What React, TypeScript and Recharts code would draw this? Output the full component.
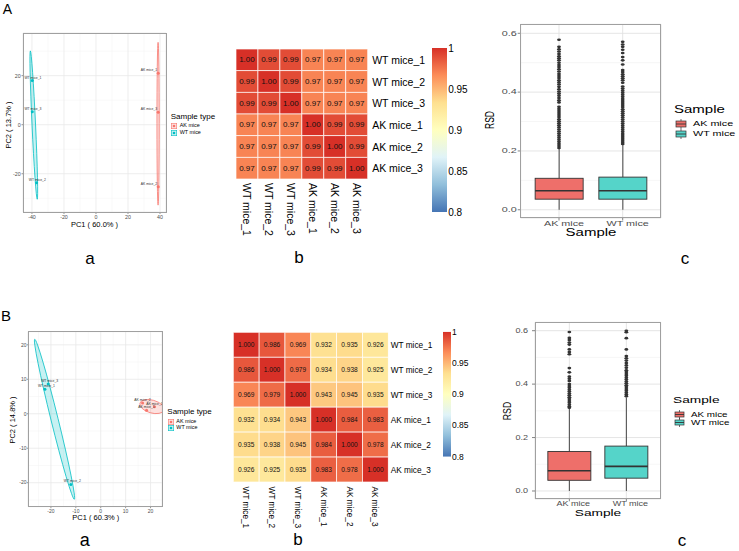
import React from "react";
import {
  ScatterChart,
  Scatter,
  ComposedChart,
  BarChart,
  Bar,
  XAxis,
  YAxis,
  CartesianGrid,
} from "recharts";

const FONT = '"Liberation Sans", Arial, Helvetica, sans-serif';
const AK_COLOR = "#F8766D";
const WT_COLOR = "#00BFC4";
const BOX_FILL: Record<string, string> = { "AK mice": "#EE6F6A", "WT mice": "#55D4C9" };

const GROUPS = ["AK mice", "WT mice"];
const SAMPLES = ["WT mice_1", "WT mice_2", "WT mice_3", "AK mice_1", "AK mice_2", "AK mice_3"];

// ---- PCA scores (panel a) ----
const PCA_A_WT = [
  { label: "WT mice_1", x: -39.8, y: 18.0 },
  { label: "WT mice_3", x: -39.8, y: 5.3 },
  { label: "WT mice_2", x: -37.1, y: -23.7 },
];
const PCA_A_AK = [
  { label: "AK mice_1", x: 38.9, y: 21.0 },
  { label: "AK mice_3", x: 38.9, y: 5.1 },
  { label: "AK mice_2", x: 38.9, y: -25.3 },
];
// ellipse = centre, end of major semi-axis, end of minor semi-axis
const ELL_A_WT = [{ x: -38.85, y: -0.15 }, { x: -41.0, y: 30.1 }, { x: -37.75, y: -0.1 }];
const ELL_A_AK = [{ x: 38.8, y: 0.4 }, { x: 38.8, y: 33.6 }, { x: 39.5, y: 0.4 }];

const PCA_B_WT = [
  { label: "WT mice_3", x: -21.1, y: 8.6 },
  { label: "WT mice_1", x: -22.4, y: 7.1 },
  { label: "WT mice_2", x: -12.0, y: -20.5 },
];
const PCA_B_AK = [
  { label: "AK mice_2", x: 16.8, y: 3.1 },
  { label: "AK mice_3", x: 21.6, y: 2.0 },
  { label: "AK mice_1", x: 18.4, y: 1.0 },
];
const ELL_B_WT = [{ x: -18.55, y: -1.6 }, { x: -26.5, y: 21.6 }, { x: -17.15, y: -1.35 }];
const ELL_B_AK = [{ x: 20.56, y: 2.09 }, { x: 15.74, y: 3.1 }, { x: 21.3, y: 3.88 }];

// ---- correlation matrices (panel b) ----
const CORR_A = [
  [1.0, 0.99, 0.99, 0.97, 0.97, 0.97],
  [0.99, 1.0, 0.99, 0.97, 0.97, 0.97],
  [0.99, 0.99, 1.0, 0.97, 0.97, 0.97],
  [0.97, 0.97, 0.97, 1.0, 0.99, 0.99],
  [0.97, 0.97, 0.97, 0.99, 1.0, 0.99],
  [0.97, 0.97, 0.97, 0.99, 0.99, 1.0],
];
const CORR_B = [
  [1.0, 0.986, 0.969, 0.932, 0.935, 0.926],
  [0.986, 1.0, 0.979, 0.934, 0.938, 0.925],
  [0.969, 0.979, 1.0, 0.943, 0.945, 0.935],
  [0.932, 0.934, 0.943, 1.0, 0.984, 0.983],
  [0.935, 0.938, 0.945, 0.984, 1.0, 0.978],
  [0.926, 0.925, 0.935, 0.983, 0.978, 1.0],
];
const COLOR_TICKS = [0.8, 0.85, 0.9, 0.95, 1];
const RDYLBU = ["#4575B4", "#91BFDB", "#E0F3F8", "#FFFFBF", "#FEE090", "#FC8D59", "#D73027"];

// ---- RSD boxplots (panel c) ----
const BOX_A = [
  { name: "AK mice", whisker: [0, 0.21], q1: 0.036, median: 0.0645, q3: 0.107 },
  { name: "WT mice", whisker: [0, 0.223], q1: 0.036, median: 0.0645, q3: 0.111 },
];
const BOX_B = [
  { name: "AK mice", whisker: [0, 0.31], q1: 0.04, median: 0.076, q3: 0.148 },
  { name: "WT mice", whisker: [0, 0.35], q1: 0.048, median: 0.092, q3: 0.168 },
];
const OUT_A_AK = [
  0.578, 0.554, 0.546, 0.538, 0.53, 0.522, 0.515, 0.508, 0.5, 0.492, 0.485, 0.478, 0.47, 0.462,
  0.455, 0.448, 0.44, 0.433, 0.426, 0.418, 0.41, 0.402, 0.395, 0.388, 0.38, 0.372, 0.365, 0.35,
  0.343, 0.336, 0.329, 0.322, 0.315, 0.308, 0.301, 0.294, 0.287, 0.28, 0.273, 0.266, 0.259,
  0.252, 0.245, 0.238, 0.231, 0.224, 0.217, 0.21,
];
const OUT_A_WT = [
  0.571, 0.562, 0.554, 0.544, 0.533, 0.519, 0.508, 0.494, 0.475, 0.468, 0.461, 0.454, 0.447,
  0.44, 0.432, 0.419, 0.412, 0.405, 0.398, 0.391, 0.384, 0.377, 0.37, 0.363, 0.356, 0.349,
  0.342, 0.335, 0.328, 0.321, 0.314, 0.307, 0.3, 0.293, 0.286, 0.279, 0.272, 0.265, 0.258,
  0.251, 0.244, 0.237, 0.23, 0.224,
];
const OUT_B_AK = [
  0.595, 0.573, 0.565, 0.556, 0.548, 0.53, 0.52, 0.512, 0.46, 0.444, 0.428, 0.42, 0.412, 0.4,
  0.393, 0.386, 0.379, 0.372, 0.365, 0.358, 0.351, 0.344, 0.337, 0.33, 0.323, 0.316, 0.312,
];
const OUT_B_WT = [
  0.6, 0.594, 0.572, 0.53, 0.505, 0.497, 0.488, 0.479, 0.47, 0.461, 0.452, 0.445, 0.438, 0.431,
  0.424, 0.417, 0.41, 0.403, 0.396, 0.389, 0.382, 0.375, 0.368, 0.361, 0.355,
];
const RSD_TICKS = [0, 0.2, 0.4, 0.6];
const RSD_MINOR = [0.1, 0.3, 0.5];

// ---------- helpers ----------
function hex(c: string) {
  return [1, 3, 5].map((i) => parseInt(c.slice(i, i + 2), 16));
}
function heatColor(v: number) {
  const t = Math.max(0, Math.min(1, (v - 0.8) / 0.2)) * (RDYLBU.length - 1);
  const i = Math.min(Math.floor(t), RDYLBU.length - 2);
  const f = t - i;
  const a = hex(RDYLBU[i]);
  const b = hex(RDYLBU[i + 1]);
  const m = a.map((c, k) => Math.round(c + (b[k] - c) * f));
  return `rgb(${m[0]},${m[1]},${m[2]})`;
}

function Txt({ x, y, size, children, anchor = "middle", rotate = 0, sx = 1, color = "#000" }: any) {
  const tx = anchor === "middle" ? "-50%" : anchor === "end" ? "-100%" : "0";
  const origin = anchor === "middle" ? "50% 50%" : anchor === "end" ? "100% 50%" : "0 50%";
  return (
    <div
      style={{
        position: "absolute",
        left: x,
        top: y,
        fontSize: size,
        lineHeight: 1,
        whiteSpace: "nowrap",
        color,
        transformOrigin: origin,
        transform: `translate(${tx}, -50%) rotate(${rotate}deg) scaleX(${sx})`,
      }}
    >
      {children}
    </div>
  );
}

function Frame({ cfg }: any) {
  const { left, top, width, height, margin, yWidth, xHeight } = cfg;
  const x = left + margin.left + yWidth;
  const y = top + margin.top;
  const w = width - margin.left - margin.right - yWidth;
  const h = height - margin.top - margin.bottom - xHeight;
  return (
    <div
      style={{
        position: "absolute",
        left: x - 0.5,
        top: y - 0.5,
        width: w + 1,
        height: h + 1,
        border: "1px solid #A0A0A0",
        boxSizing: "border-box",
        pointerEvents: "none",
      }}
    />
  );
}

// ---------- PCA ----------
const noShape = () => <g />;

const ellipseLine = (color: string) => (props: any) => {
  const pts = props.points || [];
  if (pts.length < 3) return <g />;
  const [c, a, b] = pts;
  return (
    <ellipse
      cx={0}
      cy={0}
      rx={1}
      ry={1}
      transform={`matrix(${a.x - c.x} ${a.y - c.y} ${b.x - c.x} ${b.y - c.y} ${c.x} ${c.y})`}
      fill={color}
      fillOpacity={0.22}
      stroke={color}
      strokeWidth={0.8}
      vectorEffect="non-scaling-stroke"
    />
  );
};

const pointShape = (color: string, anchor: string, dx: number) => (p: any) => (
  <g>
    <circle cx={p.cx} cy={p.cy} r={1.5} fill={color} />
    <text
      x={p.cx + dx}
      y={p.cy - 3}
      fontSize={3.4}
      textAnchor={anchor}
      dominantBaseline="central"
      fill="#333"
    >
      {p.payload.label}
    </text>
  </g>
);

function PcaPlot({ cfg }: any) {
  const c = cfg;
  return (
    <div style={{ position: "absolute", left: c.left, top: c.top }}>
      <ScatterChart width={c.width} height={c.height} margin={c.margin}>
        <CartesianGrid stroke="#F3F3F3" strokeWidth={0.5} horizontalValues={c.yMinor} verticalValues={c.xMinor} />
        <CartesianGrid stroke="#E8E8E8" strokeWidth={0.8} />
        <XAxis
          type="number"
          dataKey="x"
          domain={c.xDomain}
          ticks={c.xTicks}
          allowDataOverflow
          interval={0}
          height={c.xHeight}
          axisLine={false}
          tickLine={{ stroke: "#333", strokeWidth: 0.5 }}
          tickSize={c.xTickGap[0]}
          tickMargin={c.xTickGap[1]}
          tick={{ fontSize: c.tick, fill: "#4D4D4D" }}
        />
        <YAxis
          type="number"
          dataKey="y"
          domain={c.yDomain}
          ticks={c.yTicks}
          allowDataOverflow
          interval={0}
          width={c.yWidth}
          axisLine={false}
          tickLine={{ stroke: "#333", strokeWidth: 0.5 }}
          tickSize={c.yTickGap[0]}
          tickMargin={c.yTickGap[1]}
          tick={{ fontSize: c.tick, fill: "#4D4D4D" }}
        />
        <Scatter data={c.ellWT} line={ellipseLine(WT_COLOR)} shape={noShape} isAnimationActive={false} />
        <Scatter data={c.ellAK} line={ellipseLine(AK_COLOR)} shape={noShape} isAnimationActive={false} />
        <Scatter data={c.wt} shape={pointShape(WT_COLOR, "middle", c.wtDx)} isAnimationActive={false} />
        <Scatter data={c.ak} shape={pointShape(AK_COLOR, c.akAnchor, c.akDx)} isAnimationActive={false} />
      </ScatterChart>
    </div>
  );
}

function PcaLegend({ x, y, rows }: any) {
  return (
    <>
      <Txt x={x} y={y} size={8} anchor="start">Sample type</Txt>
      {GROUPS.map((g, i) => {
        const color = g === "AK mice" ? AK_COLOR : WT_COLOR;
        return (
          <React.Fragment key={g}>
            <svg
              width={6}
              height={6}
              style={{ position: "absolute", left: x + 0.3, top: rows[i] - 3 }}
            >
              <rect x={0.3} y={0.3} width={5.4} height={5.4} fill={color} fillOpacity={0.22} stroke={color} strokeWidth={0.6} />
              <circle cx={3} cy={3} r={1.3} fill={color} />
            </svg>
            <Txt x={x + 9} y={rows[i]} size={5.4} anchor="start">{g}</Txt>
          </React.Fragment>
        );
      })}
    </>
  );
}

// ---------- heatmap ----------
const cellsOf = (m: number[][]) => m.flatMap((row, r) => row.map((v, c) => ({ x: c + 1, y: r + 1, v })));
const IDX = [1, 2, 3, 4, 5, 6];

function Heatmap({ cfg }: any) {
  const c = cfg;
  const cw = (c.width - c.margin.left - c.margin.right - c.yWidth) / 6;
  const ch = (c.height - c.margin.top - c.margin.bottom - c.xHeight) / 6;
  const cell = (p: any) => (
    <g>
      <rect
        x={p.cx - cw / 2}
        y={p.cy - ch / 2}
        width={cw}
        height={ch}
        fill={heatColor(p.payload.v)}
        stroke="#FFFFFF"
        strokeOpacity={0.85}
        strokeWidth={0.8}
      />
      <text x={p.cx} y={p.cy} fontSize={c.cellFont} textAnchor="middle" dominantBaseline="central" fill="#111">
        {p.payload.v.toFixed(c.digits)}
      </text>
    </g>
  );
  const colTick = (p: any) => (
    <text
      transform={`translate(${p.x},${p.y}) rotate(90)`}
      fontSize={c.labelFont}
      textAnchor="start"
      dominantBaseline="central"
      fill="#000"
    >
      {SAMPLES[p.payload.value - 1]}
    </text>
  );
  const rowTick = (p: any) => (
    <text x={p.x} y={p.y} fontSize={c.labelFont} textAnchor="start" dominantBaseline="central" fill="#000">
      {SAMPLES[p.payload.value - 1]}
    </text>
  );
  return (
    <div style={{ position: "absolute", left: c.left, top: c.top }}>
      <ScatterChart width={c.width} height={c.height} margin={c.margin}>
        <XAxis
          type="number"
          dataKey="x"
          domain={[0.5, 6.5]}
          ticks={IDX}
          interval={0}
          allowDataOverflow
          height={c.xHeight}
          axisLine={false}
          tickLine={false}
          tickSize={0}
          tickMargin={c.xGap}
          tick={colTick}
        />
        <YAxis
          type="number"
          dataKey="y"
          orientation="right"
          reversed
          domain={[0.5, 6.5]}
          ticks={IDX}
          interval={0}
          allowDataOverflow
          width={c.yWidth}
          axisLine={false}
          tickLine={false}
          tickSize={0}
          tickMargin={c.yGap}
          tick={rowTick}
        />
        <Scatter data={cellsOf(c.matrix)} shape={cell} isAnimationActive={false} />
      </ScatterChart>
    </div>
  );
}

const COLORBAR = [{ name: "scale", range: [COLOR_TICKS[0], COLOR_TICKS[COLOR_TICKS.length - 1]] }];

function ColorBar({ cfg }: any) {
  const c = cfg;
  const stops = [...RDYLBU].reverse();
  const tick = (p: any) => (
    <text x={p.x} y={p.y} fontSize={c.font} textAnchor="start" dominantBaseline="central" fill="#000">
      {String(p.payload.value)}
    </text>
  );
  return (
    <div style={{ position: "absolute", left: c.left, top: c.top }}>
      <BarChart width={c.width} height={c.height} data={COLORBAR} margin={c.margin} barCategoryGap={0}>
        <defs>
          <linearGradient id={c.id} x1="0" y1="0" x2="0" y2="1">
            {stops.map((s, i) => (
              <stop key={i} offset={i / (stops.length - 1)} stopColor={s} />
            ))}
          </linearGradient>
        </defs>
        <XAxis dataKey="name" hide />
        <YAxis
          type="number"
          orientation="right"
          domain={[0.8, 1]}
          ticks={COLOR_TICKS}
          interval={0}
          allowDataOverflow
          width={c.yWidth}
          axisLine={false}
          tickLine={false}
          tickSize={0}
          tickMargin={c.gap}
          tick={tick}
        />
        <Bar dataKey="range" fill={`url(#${c.id})`} isAnimationActive={false} />
      </BarChart>
    </div>
  );
}

// ---------- boxplot ----------
const boxShape = (p: any) => {
  const { x, y, width, height, payload } = p;
  const [lo, hi] = payload.whisker;
  const k = height / (hi - lo);
  const py = (v: number) => y + (hi - v) * k;
  const cx = x + width / 2;
  return (
    <g>
      <line x1={cx} x2={cx} y1={py(hi)} y2={py(payload.q3)} stroke="#333" strokeWidth={0.9} />
      <line x1={cx} x2={cx} y1={py(payload.q1)} y2={py(lo)} stroke="#333" strokeWidth={0.9} />
      <rect
        x={x}
        y={py(payload.q3)}
        width={width}
        height={py(payload.q1) - py(payload.q3)}
        fill={BOX_FILL[payload.name]}
        stroke="#333"
        strokeWidth={0.9}
      />
      <line x1={x} x2={x + width} y1={py(payload.median)} y2={py(payload.median)} stroke="#333" strokeWidth={1.6} />
    </g>
  );
};

const outlierDot = (p: any) => <ellipse cx={p.cx} cy={p.cy} rx={1.9} ry={1.3} fill="#333" />;

function Boxplot({ cfg }: any) {
  const c = cfg;
  const outliers = [
    ...c.outAK.map((v: number) => ({ name: "AK mice", rsd: v })),
    ...c.outWT.map((v: number) => ({ name: "WT mice", rsd: v })),
  ];
  const xTick = (p: any) => (
    <text
      transform={`translate(${p.x + c.dx},${p.y}) scale(${c.sx},1)`}
      fontSize={c.tick}
      textAnchor="middle"
      dy="0.71em"
      fill="#4D4D4D"
    >
      {p.payload.value}
    </text>
  );
  const yTick = (p: any) => (
    <text
      transform={`translate(${p.x},${p.y}) scale(${c.sx},1)`}
      fontSize={c.tick}
      textAnchor="end"
      dominantBaseline="central"
      fill="#4D4D4D"
    >
      {Number(p.payload.value).toFixed(1)}
    </text>
  );
  return (
    <div style={{ position: "absolute", left: c.left, top: c.top }}>
      <ComposedChart width={c.width} height={c.height} data={c.stats} margin={c.margin}>
        <CartesianGrid vertical={false} stroke="#F0F0F0" strokeWidth={0.6} horizontalValues={RSD_MINOR} />
        <CartesianGrid stroke="#E2E2E2" strokeWidth={0.9} />
        <XAxis
          dataKey="name"
          type="category"
          allowDuplicatedCategory={false}
          padding={{ left: c.xPad, right: c.xPad }}
          interval={0}
          height={c.xHeight}
          axisLine={false}
          tickLine={{ stroke: "#333", strokeWidth: 0.6 }}
          tickSize={c.xTickGap[0]}
          tickMargin={c.xTickGap[1]}
          tick={xTick}
        />
        <YAxis
          type="number"
          domain={c.domain}
          ticks={RSD_TICKS}
          interval={0}
          allowDataOverflow
          width={c.yWidth}
          axisLine={false}
          tickLine={{ stroke: "#333", strokeWidth: 0.6 }}
          tickSize={c.yTickGap[0]}
          tickMargin={c.yTickGap[1]}
          tick={yTick}
        />
        <Bar dataKey="whisker" barSize={c.barSize} shape={boxShape} isAnimationActive={false} />
        <Scatter data={outliers} dataKey="rsd" shape={outlierDot} isAnimationActive={false} />
      </ComposedChart>
    </div>
  );
}

function BoxLegend({ x, y, rows, title, label, sx, keySize }: any) {
  const [kw, kh] = keySize;
  return (
    <>
      <Txt x={x} y={y} size={title} anchor="start" sx={sx}>Sample</Txt>
      {GROUPS.map((g, i) => (
        <React.Fragment key={g}>
          <svg
            width={kw + 2}
            height={kh + 4}
            style={{ position: "absolute", left: x + 0.5, top: rows[i] - kh / 2 - 2 }}
          >
            <line x1={1 + kw / 2} x2={1 + kw / 2} y1={0} y2={kh + 4} stroke="#333" strokeWidth={0.7} />
            <rect x={1} y={2} width={kw} height={kh} fill={BOX_FILL[g]} stroke="#333" strokeWidth={0.7} />
            <line x1={1} x2={1 + kw} y1={2 + kh / 2} y2={2 + kh / 2} stroke="#333" strokeWidth={0.9} />
          </svg>
          <Txt x={x + kw + 9} y={rows[i]} size={label} anchor="start" sx={sx}>{g}</Txt>
        </React.Fragment>
      ))}
    </>
  );
}

// ---------- layout ----------
const PCA_A_CFG = {
  left: 0, top: 0, width: 180, height: 240,
  margin: { top: 33, right: 14, bottom: 12, left: 7 }, yWidth: 16, xHeight: 16,
  xDomain: [-45.6, 43.75], yDomain: [-35.6, 37.4],
  xTicks: [-40, -20, 0, 20, 40], yTicks: [-20, 0, 20],
  xMinor: [-30, -10, 10, 30], yMinor: [-30, -10, 10, 30],
  tick: 5.3, xTickGap: [2, 1.5], yTickGap: [1.5, 0.8],
  wt: PCA_A_WT, ak: PCA_A_AK, ellWT: ELL_A_WT, ellAK: ELL_A_AK,
  wtDx: 0.7, akAnchor: "end", akDx: -1,
};
const PCA_B_CFG = {
  left: 0, top: 300, width: 175, height: 230,
  margin: { top: 31.7, right: 13, bottom: 11.3, left: 8 }, yWidth: 20, xHeight: 12,
  xDomain: [-29.2, 24.6], yDomain: [-26.96, 23.8],
  xTicks: [-20, -10, 0, 10, 20], yTicks: [-20, -10, 0, 10, 20],
  xMinor: [-25, -15, -5, 5, 15], yMinor: [-25, -15, -5, 5, 15],
  tick: 5, xTickGap: [1.5, 1.1], yTickGap: [1.2, 0.3],
  wt: PCA_B_WT, ak: PCA_B_AK, ellWT: ELL_B_WT, ellAK: ELL_B_AK,
  wtDx: 1.5, akAnchor: "middle", akDx: 0,
};
const HEAT_A_CFG = {
  left: 230, top: 30, width: 200, height: 215,
  margin: { top: 19, right: 2.3, bottom: 16, left: 6 }, yWidth: 60, xHeight: 50,
  matrix: CORR_A, cellFont: 8, labelFont: 10.5, digits: 2, yGap: 4.5, xGap: 4,
};
const HEAT_B_CFG = {
  left: 228, top: 310, width: 210.3, height: 232,
  margin: { top: 22.3, right: 0, bottom: 10, left: 5.3 }, yWidth: 50, xHeight: 50,
  matrix: CORR_B, cellFont: 6.6, labelFont: 8.3, digits: 3, yGap: 2.4, xGap: 4.5,
};
const BAR_A_CFG = {
  id: "rdylbuA", left: 425, top: 40, width: 60, height: 182,
  margin: { top: 8, right: 0, bottom: 10, left: 7 }, yWidth: 38.3, font: 10, gap: 1.5,
};
const BAR_B_CFG = {
  id: "rdylbuB", left: 438, top: 325, width: 50, height: 141.7,
  margin: { top: 6.7, right: 0, bottom: 10, left: 5 }, yWidth: 37.5, font: 8.5, gap: 1.5,
};
const BOX_A_CFG = {
  left: 480, top: 0, width: 259, height: 260,
  margin: { top: 24.3, right: 78, bottom: 27, left: 20.7 }, yWidth: 20, xHeight: 15,
  xPad: 6.45, domain: [-0.028, 0.6306], barSize: 48,
  stats: BOX_A, outAK: OUT_A_AK, outWT: OUT_A_WT,
  tick: 7.2, sx: 1.5, dx: 5, xTickGap: [2.5, 0], yTickGap: [3, 1],
};
const BOX_B_CFG = {
  left: 480, top: 300, width: 259, height: 230,
  margin: { top: 22.3, right: 78.3, bottom: 16, left: 35 }, yWidth: 20, xHeight: 15,
  xPad: 5.85, domain: [-0.03, 0.6314], barSize: 43,
  stats: BOX_B, outAK: OUT_B_AK, outWT: OUT_B_WT,
  tick: 6.7, sx: 1.35, dx: 4, xTickGap: [2.3, 0], yTickGap: [3, 4],
};

export default function App() {
  return (
    <div
      style={{
        position: "absolute",
        left: 0,
        top: 0,
        width: 739,
        height: 551,
        background: "#FFFFFF",
        fontFamily: FONT,
        overflow: "hidden",
      }}
    >
      {/* row A */}
      <Txt x={7.5} y={9} size={14}>A</Txt>
      <PcaPlot cfg={PCA_A_CFG} />
      <Frame cfg={PCA_A_CFG} />
      <Txt x={94.5} y={225} size={7.5}>PC1 ( 60.0% )</Txt>
      <Txt x={8.7} y={124.7} size={7.5} rotate={-90}>PC2 ( 13.7% )</Txt>
      <PcaLegend x={170.7} y={116.7} rows={[126, 133.3]} />

      <Heatmap cfg={HEAT_A_CFG} />
      <ColorBar cfg={BAR_A_CFG} />

      <Boxplot cfg={BOX_A_CFG} />
      <Frame cfg={BOX_A_CFG} />
      <Txt x={490} y={120} size={8.5} rotate={-90}>
        <span style={{ display: "inline-block", transform: "scaleY(1.5)" }}>RSD</span>
      </Txt>
      <Txt x={590.7} y={233} size={10} sx={1.5}>Sample</Txt>
      <BoxLegend x={674.3} y={110} rows={[124, 134]} title={10} label={7.2} sx={1.5} keySize={[10, 6]} />

      <Txt x={90} y={258} size={17}>a</Txt>
      <Txt x={299} y={257} size={17}>b</Txt>
      <Txt x={685} y={258} size={17}>c</Txt>

      {/* row B */}
      <Txt x={6} y={315.3} size={15}>B</Txt>
      <PcaPlot cfg={PCA_B_CFG} />
      <Frame cfg={PCA_B_CFG} />
      <Txt x={95.8} y={518.3} size={7.5}>PC1 ( 60.3% )</Txt>
      <Txt x={13.3} y={420} size={7.5} rotate={-90}>PC2 ( 14.8% )</Txt>
      <PcaLegend x={167.3} y={411.7} rows={[421.7, 428.3]} />

      <Heatmap cfg={HEAT_B_CFG} />
      <ColorBar cfg={BAR_B_CFG} />

      <Boxplot cfg={BOX_B_CFG} />
      <Frame cfg={BOX_B_CFG} />
      <Txt x={507.3} y={410.7} size={8.7} rotate={-90}>
        <span style={{ display: "inline-block", transform: "scaleY(1.35)" }}>RSD</span>
      </Txt>
      <Txt x={598.3} y={513} size={9.8} sx={1.4}>Sample</Txt>
      <BoxLegend x={673.3} y={400} rows={[414, 422]} title={9.8} label={7} sx={1.4} keySize={[9, 5]} />

      <Txt x={84.7} y={540} size={18}>a</Txt>
      <Txt x={298} y={539} size={17}>b</Txt>
      <Txt x={682} y={540} size={17}>c</Txt>
    </div>
  );
}
